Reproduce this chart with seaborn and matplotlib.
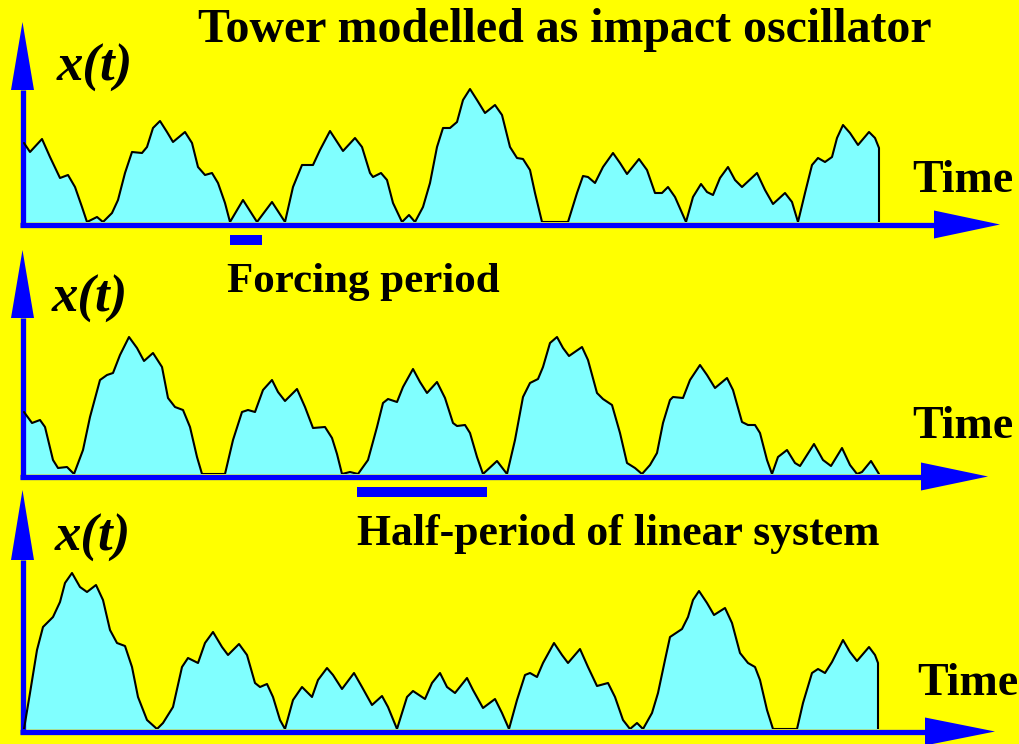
import matplotlib
matplotlib.use("Agg")
import matplotlib.pyplot as plt
import seaborn as sns
from matplotlib.patches import Polygon, Rectangle

sns.set_style("white")
plt.rcParams["font.family"] = ["Liberation Serif", "DejaVu Serif"]
plt.rcParams["text.color"] = "black"

W, H = 1019, 744
YELLOW = "#FFFF00"
BLUE = "#0000FF"
CYAN = "#80FFFF"

title = "Tower modelled as impact oscillator"
ylabel = "x(t)"
xlabel = "Time"
forcing_label = "Forcing period"
half_label = "Half-period of linear system"

# panel 1: response x(t) (time, height)
t1 = [24, 30, 42, 50, 60, 68, 75, 82, 87, 97,
      103, 112, 118, 125, 132, 142, 147, 153, 160, 167,
      173, 185, 192, 198, 205, 212, 218, 225, 230, 243,
      257, 272, 285, 293, 302, 313, 320, 330, 343, 355,
      362, 370, 373, 381, 387, 393, 402, 409, 415, 423,
      430, 437, 443, 450, 457, 463, 470, 477, 485, 495,
      502, 510, 517, 523, 530, 535, 542, 568, 577, 583,
      588, 595, 603, 613, 620, 627, 639, 647, 655, 662,
      668, 675, 686, 693, 701, 707, 713, 720, 728, 735,
      742, 757, 765, 773, 785, 792, 798, 805, 812, 818,
      825, 832, 837, 843, 850, 858, 869, 875, 879, 879]
x1 = [79, 70, 83, 65, 44, 47, 35, 15, 0, 5,
      0, 9, 22, 49, 70, 69, 75, 94, 101, 90,
      80, 90, 79, 55, 47, 49, 39, 19, 0, 22,
      0, 20, 0, 35, 57, 57, 72, 91, 71, 84,
      75, 49, 45, 49, 42, 19, 0, 7, 0, 15,
      39, 75, 94, 94, 100, 122, 133, 122, 109, 117,
      107, 75, 64, 63, 52, 29, 0, 0, 29, 46,
      45, 39, 55, 69, 59, 48, 63, 52, 29, 29,
      35, 25, 0, 25, 38, 30, 27, 44, 55, 42,
      35, 49, 32, 18, 29, 20, 0, 29, 57, 64,
      60, 65, 84, 97, 89, 77, 90, 84, 74, 0]

# panel 2
t2 = [24, 32, 40, 45, 53, 58, 67, 74, 83, 90,
      100, 107, 113, 120, 129, 137, 144, 153, 162, 168,
      175, 183, 190, 197, 202, 225, 233, 242, 248, 255,
      263, 272, 278, 285, 297, 305, 313, 325, 332, 337,
      342, 350, 358, 368, 377, 383, 388, 397, 403, 413,
      420, 427, 437, 445, 453, 457, 465, 470, 477, 483,
      497, 507, 515, 523, 530, 538, 543, 550, 557, 563,
      569, 582, 588, 597, 603, 612, 620, 627, 635, 642,
      650, 657, 663, 670, 673, 683, 690, 700, 707, 715,
      727, 733, 742, 748, 755, 760, 767, 772, 778, 787,
      795, 800, 814, 823, 831, 842, 850, 857, 862, 871, 879]
x2 = [62, 51, 54, 47, 14, 6, 7, 0, 24, 57,
      94, 99, 101, 119, 137, 126, 113, 121, 107, 76,
      67, 64, 47, 17, 0, 0, 34, 62, 64, 62,
      84, 94, 82, 73, 85, 67, 46, 47, 36, 20,
      0, 2, 0, 14, 47, 71, 75, 72, 87, 105,
      92, 81, 92, 76, 51, 48, 49, 41, 17, 0,
      13, 0, 34, 77, 91, 95, 107, 131, 137, 126,
      118, 127, 114, 81, 75, 69, 41, 11, 6, 0,
      9, 21, 51, 74, 77, 76, 94, 109, 99, 86,
      96, 84, 52, 49, 49, 41, 14, 0, 17, 24,
      11, 8, 30, 14, 8, 26, 9, 0, 2, 13, 0]

# panel 3
t3 = [24, 30, 37, 43, 53, 60, 65, 72, 80, 87,
      96, 103, 110, 117, 125, 132, 138, 147, 157, 163,
      173, 182, 188, 198, 205, 213, 222, 228, 239, 247,
      255, 260, 267, 273, 280, 285, 293, 302, 312, 318,
      327, 333, 342, 354, 362, 372, 382, 388, 397, 407,
      413, 425, 432, 440, 447, 455, 467, 473, 483, 495,
      502, 509, 517, 525, 530, 537, 543, 554, 562, 568,
      580, 588, 597, 608, 615, 623, 630, 637, 643, 652,
      658, 665, 670, 682, 688, 693, 699, 707, 714, 725,
      732, 740, 748, 755, 760, 767, 773, 797, 803, 812,
      818, 825, 832, 843, 850, 857, 869, 875, 878, 878]
x3 = [0, 36, 79, 102, 112, 127, 146, 156, 142, 137,
      144, 129, 99, 86, 83, 62, 32, 9, 0, 6,
      22, 62, 71, 66, 86, 97, 82, 74, 85, 74,
      46, 42, 45, 32, 9, 0, 29, 42, 32, 49,
      61, 54, 40, 56, 42, 24, 33, 22, 0, 32,
      38, 30, 46, 56, 42, 36, 51, 39, 21, 30,
      16, 0, 29, 54, 56, 52, 66, 86, 74, 66,
      80, 62, 43, 46, 32, 9, 0, 6, 0, 16,
      36, 69, 92, 100, 112, 129, 138, 126, 114, 121,
      106, 76, 66, 62, 49, 19, 0, 0, 26, 56,
      60, 56, 67, 89, 77, 68, 82, 74, 66, 0]

# layout of each panel in pixels: baseline y, y-arrow tip, y-arrow base,
# x-arrow base, x-arrow tip, label positions
panels = [
    dict(t=t1, x=x1, base=222, ytip=22, ybase=90, xbase=934, xtip=1000,
         lab=(57, 81), time=(912, 192)),
    dict(t=t2, x=x2, base=474, ytip=250, ybase=318, xbase=921, xtip=988,
         lab=(52, 312), time=(912, 438)),
    dict(t=t3, x=x3, base=729, ytip=490, ybase=560, xbase=925, xtip=995,
         lab=(55, 551), time=(917, 695)),
]

fig = plt.figure(figsize=(W / 100, H / 100), dpi=100, facecolor=YELLOW)


def fx(px):
    return px / W


def fy(py):
    return 1 - py / H


axes = []
for p in panels:
    top = p["base"] - p["ytip"]
    ax = fig.add_axes([fx(22), fy(p["base"]), fx(1000) - fx(22), top / H])
    ax.set_xlim(22, 1000)
    ax.set_ylim(0, top)
    ax.axis("off")
    ax.patch.set_alpha(0)

    ax.fill_between(p["t"], 0, p["x"], color=CYAN, lw=0, zorder=2)
    line = sns.lineplot(x=p["t"], y=p["x"], ax=ax, color="black", lw=1.5,
                        sort=False, estimator=None, zorder=4)
    for ln in ax.lines:
        ln.set_solid_joinstyle("round")

    # axes with arrow heads
    ax.plot([20, p["xbase"]], [-2.5, -2.5], color=BLUE, lw=3.8,
            solid_capstyle="butt", clip_on=False, zorder=3)
    ax.add_patch(Polygon([(p["xbase"], -16.5), (p["xbase"], 11.5), (p["xtip"], -2.5)],
                         closed=True, color=BLUE, lw=0, clip_on=False, zorder=3))
    yb = p["base"] - p["ybase"]
    ax.plot([22.5, 22.5], [-5, yb], color=BLUE, lw=3.8,
            solid_capstyle="butt", clip_on=False, zorder=3)
    ax.add_patch(Polygon([(11, yb), (34, yb), (22.5, top)],
                         closed=True, color=BLUE, lw=0, clip_on=False, zorder=3))

    fig.text(fx(p["lab"][0]), fy(p["lab"][1]), ylabel, fontsize=38,
             fontweight="bold", fontstyle="italic", va="baseline", ha="left",
             color="black")
    fig.text(fx(p["time"][0]), fy(p["time"][1]), xlabel, fontsize=33,
             fontweight="bold", va="baseline", ha="left", color="black")
    axes.append(ax)

# period markers
axes[0].add_patch(Rectangle((230, -23), 32, 10, color=BLUE, lw=0, clip_on=False))
axes[1].add_patch(Rectangle((357, -23), 130, 10, color=BLUE, lw=0, clip_on=False))

fig.text(fx(565), fy(42), title, fontsize=34.5, fontweight="bold",
         va="baseline", ha="center", color="black")
fig.text(fx(227), fy(292), forcing_label, fontsize=31, fontweight="bold",
         va="baseline", ha="left", color="black")
fig.text(fx(357), fy(545), half_label, fontsize=31.5, fontweight="bold",
         va="baseline", ha="left", color="black")

fig.savefig("out.png", dpi=100, facecolor=YELLOW)
